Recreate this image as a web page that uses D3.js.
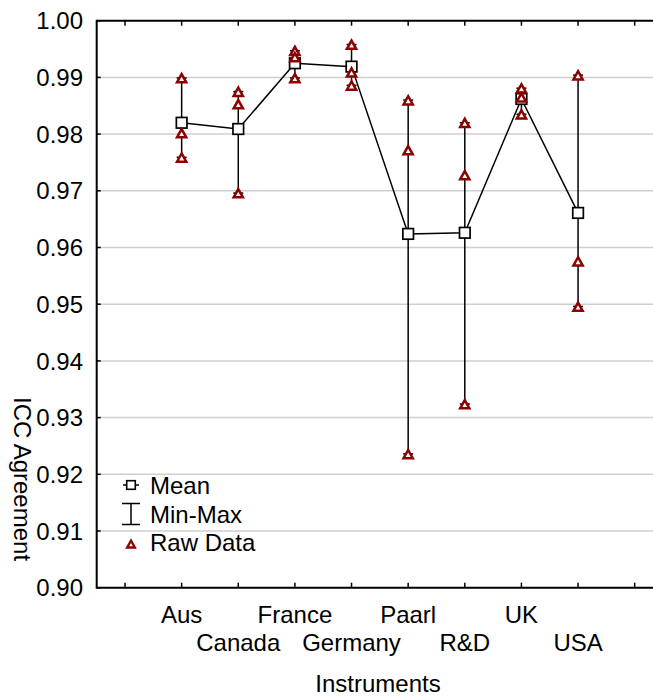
<!DOCTYPE html>
<html>
<head>
<meta charset="utf-8">
<script src="https://cdn.jsdelivr.net/npm/d3@7"></script>
<style>
    body { margin: 0; background: #fff; }
    text { font-family: "Liberation Sans", Arial, sans-serif; fill: #000; }
</style>
</head>
<body>
<div id="chart"></div>
<script>
const categories = ["Aus", "Canada", "France", "Germany", "Paarl", "R&D", "UK", "USA"];
const means = [0.9820, 0.9809, 0.9925, 0.9919, 0.9624, 0.9626, 0.9862, 0.9661];
const rawData = [
    [0.9899, 0.9802, 0.9759],
    [0.9875, 0.9853, 0.9696],
    [0.9947, 0.9936, 0.9899],
    [0.9958, 0.9909, 0.9886],
    [0.9860, 0.9772, 0.9236],
    [0.9820, 0.9728, 0.9324],
    [0.9881, 0.9865, 0.9835],
    [0.9904, 0.9576, 0.9496]
];
const yTicks = [0.90, 0.91, 0.92, 0.93, 0.94, 0.95, 0.96, 0.97, 0.98, 0.99, 1.00];
const legendLabels = ["Mean", "Min-Max", "Raw Data"];

const width = 653,
    height = 696,
    margin = { top: 20.7, right: -10, bottom: 108.3, left: 96.7 };
const red = "#8b0000";

const svg = d3.select("#chart")
    .append("svg")
    .attr("width", width)
    .attr("height", height);

// x positions: 0 and 9 are empty slots, categories sit at 1..8
const x = d3.scaleLinear()
    .domain([-0.5, 9.5])
    .range([margin.left, width - margin.right]);

const y = d3.scaleLinear()
    .domain([0.90, 1.00])
    .range([height - margin.bottom, margin.top]);

// grid
svg.append("g")
    .selectAll("line")
    .data(yTicks.slice(1, -1))
    .join("line")
    .attr("x1", x.range()[0])
    .attr("x2", x.range()[1])
    .attr("y1", (d) => y(d))
    .attr("y2", (d) => y(d))
    .attr("stroke", "#cfcfcf")
    .attr("stroke-width", 1.5);

// frame + ticks
const xTickIdx = d3.range(0, 10);
svg.append("path")
    .attr("d", `M${x.range()[1]},${y(1)}H${x.range()[0]}V${y(0.9)}H${x.range()[1]}`)
    .attr("fill", "none")
    .attr("stroke", "#000")
    .attr("stroke-width", 2);

svg.append("g")
    .selectAll("line")
    .data(xTickIdx)
    .join("line")
    .attr("x1", (d) => x(d)).attr("x2", (d) => x(d))
    .attr("y1", y(0.9)).attr("y2", y(0.9) - 5)
    .attr("stroke", "#000").attr("stroke-width", 1.5);
svg.append("g")
    .selectAll("line")
    .data(xTickIdx)
    .join("line")
    .attr("x1", (d) => x(d)).attr("x2", (d) => x(d))
    .attr("y1", y(1)).attr("y2", y(1) + 5)
    .attr("stroke", "#000").attr("stroke-width", 1.5);
svg.append("g")
    .selectAll("line")
    .data(yTicks)
    .join("line")
    .attr("x1", x.range()[0]).attr("x2", x.range()[0] + 4)
    .attr("y1", (d) => y(d)).attr("y2", (d) => y(d))
    .attr("stroke", "#000").attr("stroke-width", 1.5);

// y tick labels
svg.append("g")
    .selectAll("text")
    .data(yTicks)
    .join("text")
    .attr("x", 83)
    .attr("y", (d) => y(d))
    .attr("dy", "0.36em")
    .attr("text-anchor", "end")
    .style("font-size", "24px")
    .text((d) => d.toFixed(2));

// x tick labels, staggered
svg.append("g")
    .selectAll("text")
    .data(categories)
    .join("text")
    .attr("x", (d, i) => x(i + 1))
    .attr("y", (d, i) => (i % 2 == 0 ? 623 : 651))
    .attr("text-anchor", "middle")
    .style("font-size", "24px")
    .text((d) => d);

// axis titles
svg.append("text")
    .attr("x", 378)
    .attr("y", 692)
    .attr("text-anchor", "middle")
    .style("font-size", "24px")
    .text("Instruments");
svg.append("text")
    .attr("transform", "translate(14,479) rotate(90)")
    .attr("text-anchor", "middle")
    .style("font-size", "24px")
    .text("ICC Agreement");

// mean line
svg.append("path")
    .datum(means)
    .attr("d", d3.line().x((d, i) => x(i + 1)).y((d) => y(d)))
    .attr("fill", "none")
    .attr("stroke", "#000")
    .attr("stroke-width", 1.5);

// min-max whiskers
const whisk = svg.append("g")
    .selectAll("g")
    .data(rawData)
    .join("g");
whisk.append("line")
    .attr("x1", (d, i) => x(i + 1)).attr("x2", (d, i) => x(i + 1))
    .attr("y1", (d) => y(d3.min(d))).attr("y2", (d) => y(d3.max(d)))
    .attr("stroke", "#000").attr("stroke-width", 1.5);
whisk.selectAll(".cap")
    .data((d, i) => d3.extent(d).map((v) => [i, v]))
    .join("line")
    .attr("class", "cap")
    .attr("x1", (d) => x(d[0] + 1) - 5).attr("x2", (d) => x(d[0] + 1) + 5)
    .attr("y1", (d) => y(d[1])).attr("y2", (d) => y(d[1]))
    .attr("stroke", "#000").attr("stroke-width", 1.5);

// mean squares
svg.append("g")
    .selectAll("rect")
    .data(means)
    .join("rect")
    .attr("x", (d, i) => x(i + 1) - 5.3)
    .attr("y", (d) => y(d) - 5.3)
    .attr("width", 10.6)
    .attr("height", 10.6)
    .attr("fill", "#fff")
    .attr("stroke", "#000")
    .attr("stroke-width", 1.7);

// raw data triangles
const tri = "M0,-3.9L4.6,4.3L-4.6,4.3Z";
svg.append("g")
    .selectAll("path")
    .data(rawData.flatMap((d, i) => d.map((v) => [i, v])))
    .join("path")
    .attr("d", tri)
    .attr("transform", (d) => `translate(${x(d[0] + 1)},${y(d[1])})`)
    .attr("fill", "#fff")
    .attr("stroke", red)
    .attr("stroke-width", 2.5);

// legend
const lg = svg.append("g");
const lx = 131;
lg.append("line").attr("x1", lx - 8).attr("x2", lx + 8).attr("y1", 485).attr("y2", 485)
    .attr("stroke", "#000").attr("stroke-width", 1.5);
lg.append("rect").attr("x", lx - 4.3).attr("y", 480.7).attr("width", 8.6).attr("height", 8.6)
    .attr("fill", "#fff").attr("stroke", "#000").attr("stroke-width", 1.6);
lg.append("path").attr("d", `M${lx - 9},503.5H${lx + 9}M${lx},503.5V524.5M${lx - 9},524.5H${lx + 9}`)
    .attr("stroke", "#000").attr("stroke-width", 1.5).attr("fill", "none");
lg.append("path").attr("d", "M0,-3.4L3.9,3.5L-3.9,3.5Z")
    .attr("transform", `translate(${lx},544)`)
    .attr("fill", "#fff").attr("stroke", red).attr("stroke-width", 2.3);
lg.selectAll("text")
    .data(legendLabels)
    .join("text")
    .attr("x", 150)
    .attr("y", (d, i) => 494 + i * 28.5)
    .style("font-size", "24px")
    .text((d) => d);
</script>
</body>
</html>
